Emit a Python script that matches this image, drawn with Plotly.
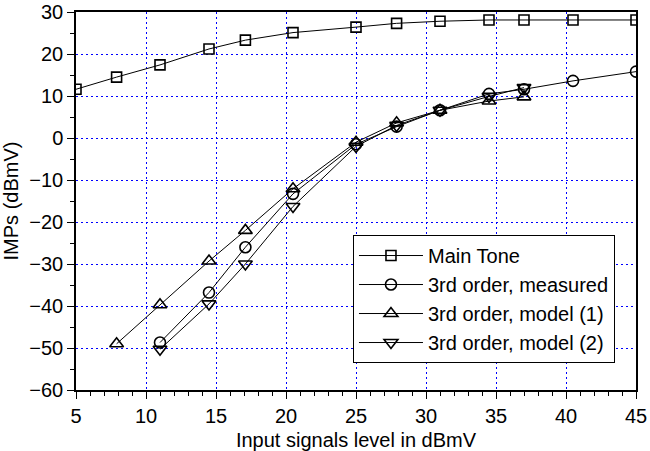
import plotly.graph_objects as go

x_main = [5, 7.9, 11, 14.5, 17.1, 20.5, 25, 27.9, 31, 34.5, 37, 40.5, 45]
y_main = [11.6, 14.5, 17.4, 21.2, 23.3, 25.1, 26.4, 27.3, 27.8, 28.1, 28.1, 28.1, 28.1]

x_meas = [11, 14.5, 17.1, 20.5, 25, 27.9, 31, 34.5, 37, 40.5, 45]
y_meas = [-48.7, -36.8, -26, -13.3, -1.5, 2.7, 6.6, 10.5, 11.6, 13.6, 15.8]

x_m1 = [7.9, 11, 14.5, 17.1, 20.5, 25, 27.9, 31, 34.5, 37]
y_m1 = [-49, -39.7, -29.3, -22, -12.1, -1, 3.6, 6.6, 8.8, 9.8]

x_m2 = [11, 14.5, 17.1, 20.5, 25, 27.9, 31, 34.5, 37]
y_m2 = [-50.3, -39.5, -30, -16.3, -2, 3, 6.6, 9.9, 12.0]

names = ["Main Tone", "3rd order, measured", "3rd order, model (1)", "3rd order, model (2)"]

FONT = "Liberation Sans, Arial, sans-serif"

fig = go.Figure()
series = [
    (x_main, y_main, "square-open", 10),
    (x_meas, y_meas, "circle-open", 11),
    (x_m1, y_m1, "triangle-up-open", 12),
    (x_m2, y_m2, "triangle-down-open", 12),
]
for (xs, ys, sym, sz), nm in zip(series, names):
    fig.add_trace(go.Scatter(
        x=xs, y=ys, name=nm, mode="lines+markers",
        line=dict(color="black", width=1),
        marker=dict(symbol=sym, size=sz, color="black", line=dict(width=1.6, color="black")),
    ))

axis_common = dict(
    showline=True, linecolor="black", linewidth=1.5, mirror=True,
    ticks="outside", ticklen=7, tickwidth=1, tickcolor="black",
    showgrid=True, gridcolor="#0000ff", griddash="2px,3px", gridwidth=1,
    zeroline=False, automargin=False,
    tickfont=dict(family=FONT, size=20, color="black"),
)

fig.update_xaxes(
    range=[5, 45], dtick=5, tick0=5,
    minor=dict(dtick=1, ticks="outside", ticklen=4, tickcolor="black", showgrid=False),
    title=dict(text="Input signals level in dBmV", font=dict(family=FONT, size=20, color="black")),
    **axis_common,
)
fig.update_yaxes(
    range=[-60, 30], dtick=10, tick0=0,
    minor=dict(dtick=5, ticks="outside", ticklen=4, tickcolor="black", showgrid=False),
    title=dict(text="IMPs (dBmV)", font=dict(family=FONT, size=20, color="black")),
    **axis_common,
)

fig.update_layout(
    width=650, height=451,
    margin=dict(l=76, r=14, t=12, b=61),
    plot_bgcolor="white", paper_bgcolor="white",
    font=dict(family=FONT, size=20, color="black"),
    legend=dict(
        x=0.4946, y=0.41, xanchor="left", yanchor="top",
        bgcolor="white", bordercolor="black", borderwidth=1,
        font=dict(family=FONT, size=20, color="black"),
        itemwidth=64,
    ),
)

fig.write_html(
    "out.html",
    config={"displayModeBar": False},
    post_script="document.body.style.margin='0';",
)
